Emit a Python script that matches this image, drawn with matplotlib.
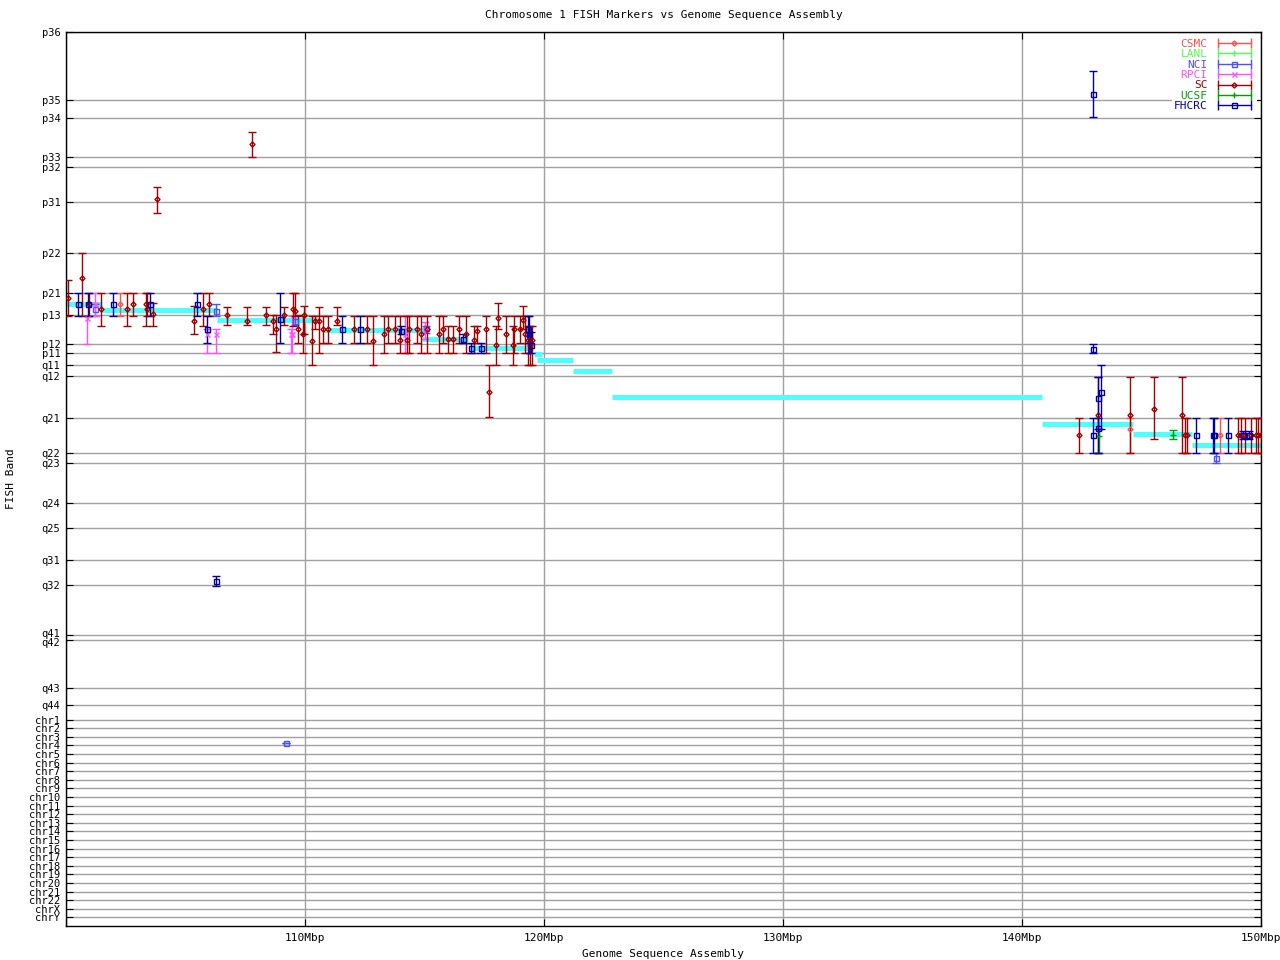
import matplotlib
matplotlib.use("Agg")
import matplotlib.pyplot as plt
from matplotlib.lines import Line2D
from matplotlib.legend_handler import HandlerLine2D, HandlerTuple
import matplotlib.transforms as mtrans

# y axis = position along the FISH band ladder (p36 at the top)
band_labels = ['p36', 'p35', 'p34', 'p33', 'p32', 'p31', 'p22', 'p21', 'p13', 'p12', 'p11',
               'q11', 'q12', 'q21', 'q22', 'q23', 'q24', 'q25', 'q31', 'q32', 'q41', 'q42',
               'q43', 'q44',
               'chr1', 'chr2', 'chr3', 'chr4', 'chr5', 'chr6', 'chr7', 'chr8', 'chr9', 'chr10',
               'chr11', 'chr12', 'chr13', 'chr14', 'chr15', 'chr16', 'chr17', 'chr18', 'chr19',
               'chr20', 'chr21', 'chr22', 'chrX', 'chrY']
band_pos = [0, 68.3, 85.7, 125, 135, 169.7, 220.3, 260.3, 283, 311.3, 320.3,
            333, 343.7, 385.3, 420.7, 430.7, 470.3, 495.7, 527, 552.7, 602.3, 607.3,
            655.3, 672.3,
            687, 695.6, 704.2, 712.7, 721.3, 729.9, 738.5, 747.1, 755.6, 764.2,
            772.8, 781.4, 790, 798.5, 807.1, 815.7, 824.3, 832.8, 841.4,
            850, 858.6, 867.2, 875.7, 884.3]
y_bottom = 893

x_ticks = [100, 110, 120, 130, 140, 150]
x_labels = ['', '110Mbp', '120Mbp', '130Mbp', '140Mbp', '150Mbp']

# assembly band segments (Mbp start, Mbp end, band position)
asm_start = [100.0, 101.5, 106.3, 110.75, 114.9, 116.9, 119.6, 119.7, 121.2, 122.85, 140.85, 144.65, 147.1]
asm_end = [101.5, 106.3, 110.6, 115.15, 116.8, 119.55, 119.9, 121.2, 122.85, 140.85, 144.65, 147.1, 150.0]
asm_band = [272, 278, 288, 298, 307, 316, 322, 328, 339, 365, 392, 402, 413]

# FISH markers: x (Mbp), band position, band range low/high
sc_x = [100.10, 100.68, 100.96, 101.45, 102.56, 102.82, 103.35, 103.40, 103.65, 103.82,
        105.36, 105.75, 106.00, 106.75, 107.56, 107.79, 108.37, 108.67, 108.79, 109.13,
        109.51, 109.60, 109.72, 109.90, 109.97, 110.30, 110.42, 110.60, 110.77, 110.98,
        111.33, 112.06, 112.58, 112.86, 113.32, 113.49, 113.77, 113.97, 114.25, 114.36,
        114.67, 114.85, 115.12, 115.62, 115.79, 116.00, 116.18, 116.46, 116.74, 117.08,
        117.21, 117.57, 117.68, 117.99, 118.09, 118.40, 118.69, 118.76, 119.00, 119.13,
        119.22, 119.31, 119.41, 119.51,
        142.40, 143.19, 144.52, 145.54, 146.68, 146.82, 146.92, 149.05, 149.16, 149.33,
        149.58, 149.79, 149.89, 149.99]
sc_y = [265.3, 245.3, 272, 277, 277, 272, 272, 277, 282, 167,
        288.7, 277, 272, 283, 288.7, 112, 283, 288.7, 297, 283,
        277, 279, 297, 302, 283, 308.7, 288.7, 288.7, 297, 297,
        288.7, 297, 297, 308.7, 302, 297, 297, 307.7, 307.7, 297,
        297, 302, 297, 302, 297, 307, 307, 297, 302, 307.7,
        298.7, 297, 359.3, 313, 286, 302, 313, 297, 297, 288,
        302, 307.7, 313, 307.7,
        403, 382.7, 382.7, 376.3, 382.7, 403, 403, 403, 403, 403,
        403, 403, 403, 403]
sc_lo = [247.7, 220.3, 260.3, 260.3, 260.3, 260.3, 260.3, 260.3, 270.3, 155.3,
         273.7, 260.3, 260.3, 274.3, 274.3, 100.3, 274.3, 283, 283, 274.3,
         260.3, 260.3, 283, 283.7, 273.7, 283.7, 283.7, 274.3, 283.7, 283.7,
         274.3, 283.7, 283.7, 283.7, 283.7, 283.7, 283.7, 283.7, 283.7, 283.7,
         283.7, 283.7, 283.7, 283.7, 283.7, 293.7, 293.7, 283.7, 283.7, 293.7,
         293.7, 283.7, 333, 293.7, 270.3, 283.7, 293.7, 283.7, 283.7, 274,
         283.7, 293.7, 293.7, 293.7,
         385.3, 344.3, 344.3, 344.3, 344.3, 385.3, 385.3, 385.3, 385.3, 385.3,
         385.3, 385.3, 385.3, 385.3]
sc_hi = [283.7, 283.7, 283.7, 293.7, 293.7, 283.7, 293.7, 283.7, 293.7, 180.3,
         302, 293.7, 283.7, 293, 293, 125.3, 293, 302, 319.7, 293,
         293.7, 283.7, 311, 320.3, 302, 333, 297, 320.3, 311, 311,
         293, 311, 311, 333, 320.3, 311, 311, 320.3, 320.3, 320.3,
         311, 320.3, 320.3, 320.3, 311, 320.3, 320.3, 311, 320.3, 320.3,
         311, 320.3, 384.7, 333, 297, 320.3, 333, 320.3, 311, 297,
         320.3, 333, 333, 333,
         420.3, 420.3, 420.3, 407, 420.3, 420.3, 420.3, 420.3, 420.3, 420.3,
         420.3, 420.3, 420.3, 420.3]

fhcrc_x = [100.51, 100.90, 101.98, 103.51, 105.50, 105.91, 106.26, 108.95, 111.56, 112.30,
           114.02, 116.60, 116.93, 117.35, 119.35, 119.38, 119.44,
           142.98, 142.98, 142.98, 143.19, 143.29, 143.17, 147.28, 147.98, 148.03, 148.63,
           149.26, 149.51]
fhcrc_y = [272, 272, 272, 272, 272, 297, 548, 286.3, 297, 297,
           298.7, 307, 316, 316, 297, 302, 313,
           62, 316.3, 403, 365.3, 359.3, 396, 403, 403, 403, 403,
           403, 403]
fhcrc_lo = [260.3, 260.3, 260.3, 260.3, 260.3, 283.7, 543.7, 260.3, 283.7, 283.7,
            293.7, 302, 311, 311, 283.7, 283.7, 300,
            38.7, 311.7, 385.3, 344.3, 333, 385.3, 385.3, 385.3, 385.3, 385.3,
            398.7, 398.7]
fhcrc_hi = [283.7, 283.7, 283.7, 283.7, 283.7, 311, 553, 311, 311, 311,
            302, 311, 320.3, 320.3, 311, 320.3, 320.3,
            85.3, 320.3, 420.3, 397, 397, 420.3, 420.3, 420.3, 420.3, 420.3,
            407, 407]

nci_x = [101.21, 106.28, 109.19, 109.58, 115.06, 148.10]
nci_y = [277, 278.7, 710.3, 288.7, 296, 425.3]
nci_lo = [272, 272, 710.3, 283.7, 293.7, 420.3]
nci_hi = [283.7, 283.7, 710.3, 293, 300.3, 430.3]

rpci_x = [100.86, 101.21, 105.90, 106.28, 109.41, 109.45, 114.18, 115.00]
rpci_y = [286, 272, 301.3, 301.3, 301.3, 302, 302, 297]
rpci_lo = [283.7, 260.3, 297, 297, 297, 283.7, 283.7, 290]
rpci_hi = [311.3, 283.7, 320.3, 320.3, 320.3, 320.3, 320.3, 307]

csmc_x = [102.26, 144.52, 148.28]
csmc_y = [272, 397, 403]
csmc_lo = [260.3, 385.3, 385.3]
csmc_hi = [283.7, 420.3, 420.3]

ucsf_x = [143.22, 146.33]
ucsf_y = [403.7, 402.7]
ucsf_lo = [397, 398]
ucsf_hi = [420.3, 407]

lanl_x = []
lanl_y = []
lanl_lo = []
lanl_hi = []

series = [
    ('CSMC', csmc_x, csmc_y, csmc_lo, csmc_hi, '#ff5050', 'D', 2.6),
    ('LANL', lanl_x, lanl_y, lanl_lo, lanl_hi, '#50ff50', '+', 4.0),
    ('NCI', nci_x, nci_y, nci_lo, nci_hi, '#5050ff', 's', 3.6),
    ('RPCI', rpci_x, rpci_y, rpci_lo, rpci_hi, '#ff50ff', 'x', 3.6),
    ('SC', sc_x, sc_y, sc_lo, sc_hi, '#a00000', 'D', 2.6),
    ('UCSF', ucsf_x, ucsf_y, ucsf_lo, ucsf_hi, '#00a000', '+', 4.0),
    ('FHCRC', fhcrc_x, fhcrc_y, fhcrc_lo, fhcrc_hi, '#0000a0', 's', 3.6),
]

plt.rcParams['font.family'] = ['DejaVu Sans Mono']
plt.rcParams['font.size'] = 8

fig = plt.figure(figsize=(12.8, 9.6), dpi=100)
ax = fig.add_axes([66 / 1280, 1 - 926 / 960, 1195 / 1280, 894 / 960])

ax.hlines(asm_band, asm_start, asm_end, colors='#4dffff', linewidth=3.6, zorder=2)

handles = []
hmap = {}
for name, xs, ys, lo, hi, col, mk, ms in series:
    if xs:
        err = [[y - l for y, l in zip(ys, lo)], [h - y for y, h in zip(ys, hi)]]
        ax.errorbar(xs, ys, yerr=err, fmt='none', ecolor=col, elinewidth=1.0,
                    capsize=3.2, capthick=1.0, zorder=3)
        ax.plot(xs, ys, linestyle='none', marker=mk, markersize=ms, markerfacecolor='none',
                markeredgecolor=col, markeredgewidth=1.0, zorder=4)
    caps = Line2D([], [], color=col, linewidth=1.0, marker='|', markersize=7,
                  markeredgewidth=1.0)
    mark = Line2D([], [], color=col, linestyle='none', marker=mk, markersize=ms,
                  markerfacecolor='none', markeredgecolor=col, markeredgewidth=1.0)
    hmap[caps] = HandlerLine2D(numpoints=2)
    hmap[mark] = HandlerLine2D(numpoints=1)
    handles.append((caps, mark))
hmap[tuple] = HandlerTuple(ndivide=1, pad=0)

ax.set_xlim(100, 150)
ax.set_ylim(y_bottom, 0)
ax.set_xticks(x_ticks)
ax.set_xticklabels(x_labels)
ax.set_yticks(band_pos)
ax.set_yticklabels(band_labels)
ax.tick_params(axis='y', direction='in', length=5, left=True, right=True, labelsize=7.5, pad=4)
ax.tick_params(axis='x', direction='in', length=5, top=True, labelsize=8, pad=5)
ax.grid(True, color='#a0a0a0', linewidth=1.0)
ax.set_axisbelow(True)
for s in ax.spines.values():
    s.set_linewidth(1.0)

# q41 / q42 sit only a few pixels apart: nudge the labels slightly
for lab in ax.get_yticklabels():
    if lab.get_text() == 'q41':
        lab.set_transform(lab.get_transform() + mtrans.ScaledTranslation(0, 2 / 100, fig.dpi_scale_trans))
    elif lab.get_text() == 'q42':
        lab.set_transform(lab.get_transform() + mtrans.ScaledTranslation(0, -2 / 100, fig.dpi_scale_trans))

ax.set_title('Chromosome 1 FISH Markers vs Genome Sequence Assembly', fontsize=8, pad=10)
ax.set_xlabel('Genome Sequence Assembly', fontsize=8)
ax.xaxis.set_label_coords(0.5, -0.026)
ax.set_ylabel('FISH Band', fontsize=8)
ax.yaxis.set_label_coords(-0.042, 0.5)

leg = ax.legend(handles, [s[0] for s in series], handler_map=hmap, loc='upper right',
                markerfirst=False, frameon=True, fancybox=False, edgecolor='none',
                facecolor='white', framealpha=1.0, fontsize=8, handlelength=3.6,
                handletextpad=0.6, labelspacing=0.04, borderpad=0.2, borderaxespad=0.4)
for t, s in zip(leg.get_texts(), series):
    t.set_color(s[5])

fig.savefig('out.png', dpi=100)
